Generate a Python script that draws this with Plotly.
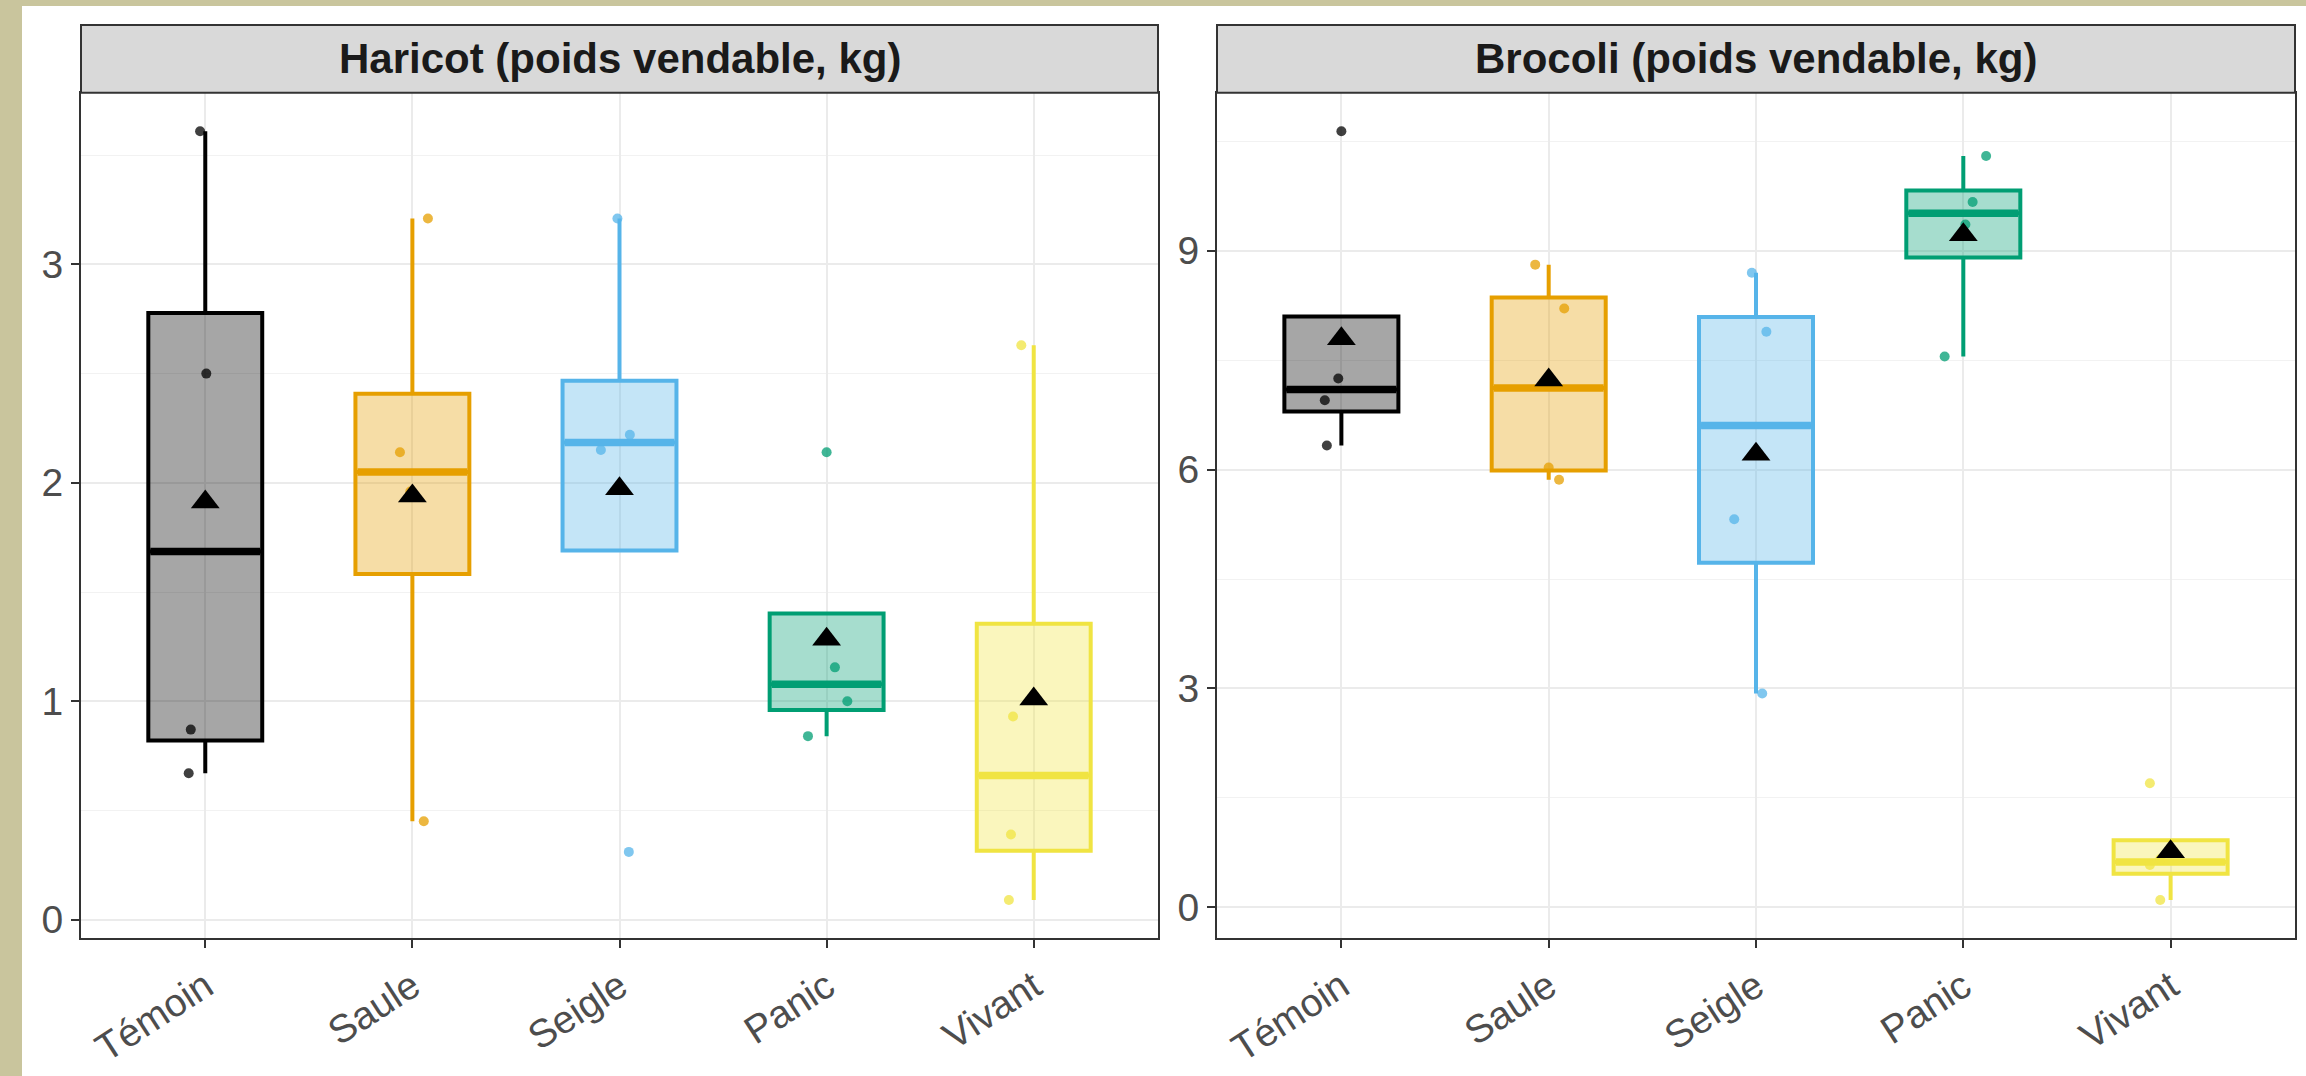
import numpy as np
import plotly.graph_objects as go

# ---------------- data ----------------
categories = ["Témoin", "Saule", "Seigle", "Panic", "Vivant"]
panel_titles = ["Haricot (poids vendable, kg)", "Brocoli (poids vendable, kg)"]

haricot_values = [
    [3.61, 2.50, 0.87, 0.67],   # Témoin
    [3.21, 2.14, 1.96, 0.45],   # Saule
    [3.21, 2.22, 2.15, 0.31],   # Seigle
    [2.14, 1.155, 1.00, 0.84],  # Panic
    [2.63, 0.93, 0.39, 0.09],   # Vivant
]
brocoli_values = [
    [10.64, 7.25, 6.95, 6.33],
    [8.81, 8.21, 6.03, 5.86],
    [8.70, 7.89, 5.32, 2.93],
    [10.30, 9.67, 9.36, 7.55],
    [1.70, 0.66, 0.58, 0.10],
]
# horizontal jitter of the points (category units)
haricot_jitter = [
    [-0.025, 0.005, -0.07, -0.08],
    [0.075, -0.06, -0.01, 0.055],
    [-0.01, 0.05, -0.09, 0.045],
    [0.0, 0.04, 0.10, -0.09],
    [-0.06, -0.10, -0.11, -0.12],
]
brocoli_jitter = [
    [0.0, -0.015, -0.08, -0.07],
    [-0.065, 0.075, 0.0, 0.05],
    [-0.02, 0.05, -0.105, 0.03],
    [0.11, 0.045, 0.01, -0.09],
    [-0.10, -0.05, -0.10, -0.05],
]
haricot_ticks = [0, 1, 2, 3]
brocoli_ticks = [0, 3, 6, 9]

# ---------------- style ----------------
line_colors = ["#000000", "#E69F00", "#56B4E9", "#009E73", "#F0E442"]
rgb = [(0, 0, 0), (230, 159, 0), (86, 180, 233), (0, 158, 115), (240, 228, 66)]
fill_colors = [f"rgba({r},{g},{b},0.35)" for r, g, b in rgb]
point_colors = [f"rgba({r},{g},{b},0.75)" for r, g, b in rgb]

W, H = 2306, 1076
FONT = "Liberation Sans, Arial, sans-serif"
BOX_W = 0.55
PAGE_BG = "#C9C59D"

panels = [
    dict(values=haricot_values, jitter=haricot_jitter, ticks=haricot_ticks,
         xd=[81 / W, 1158 / W], xa="x", ya="y"),
    dict(values=brocoli_values, jitter=brocoli_jitter, ticks=brocoli_ticks,
         xd=[1217 / W, 2295 / W], xa="x2", ya="y2"),
]
ydom = [(H - 941) / H, (H - 93) / H]

fig = go.Figure()

for p in panels:
    vals_all = []
    for i, vals in enumerate(p["values"]):
        v = np.array(vals, dtype=float)
        q1, med, q3 = np.percentile(v, [25, 50, 75])
        iqr = q3 - q1
        lo = v[v >= q1 - 1.5 * iqr].min()
        hi = v[v <= q3 + 1.5 * iqr].max()
        vals_all.extend([v.min(), v.max()])
        fig.add_trace(go.Box(
            x=[i], q1=[q1], median=[med], q3=[q3], lowerfence=[lo], upperfence=[hi],
            width=BOX_W, whiskerwidth=0, boxpoints=False,
            fillcolor=fill_colors[i], line=dict(color=line_colors[i], width=4),
            xaxis=p["xa"], yaxis=p["ya"], showlegend=False, hoverinfo="skip"))
        # thicker median bar (ggplot fatten)
        fig.add_trace(go.Scatter(
            x=[i - BOX_W / 2 + 0.01, i + BOX_W / 2 - 0.01], y=[med, med], mode="lines",
            line=dict(color=line_colors[i], width=7.5),
            xaxis=p["xa"], yaxis=p["ya"], showlegend=False, hoverinfo="skip"))
    for i, vals in enumerate(p["values"]):
        fig.add_trace(go.Scatter(
            x=[i + j for j in p["jitter"][i]], y=vals, mode="markers",
            marker=dict(color=point_colors[i], size=10, line=dict(width=0)),
            xaxis=p["xa"], yaxis=p["ya"], showlegend=False, hoverinfo="skip"))
    means = [float(np.mean(v)) for v in p["values"]]
    fig.add_trace(go.Scatter(
        x=list(range(len(categories))), y=means, mode="markers",
        marker=dict(symbol="triangle-up", color="black", size=25, line=dict(width=0)),
        xaxis=p["xa"], yaxis=p["ya"], showlegend=False, hoverinfo="skip"))
    lo_all, hi_all = min(vals_all), max(vals_all)
    span = hi_all - lo_all
    p["yrange"] = [lo_all - 0.05 * span, hi_all + 0.05 * span]

axis_common = dict(
    showline=True, mirror=True, linecolor="#333333", linewidth=2,
    ticks="outside", ticklen=8, tickwidth=2, tickcolor="#333333",
    tickfont=dict(family=FONT, size=39, color="#4D4D4D"),
    showgrid=True, gridcolor="#EBEBEB", gridwidth=2, zeroline=False,
)

layout = dict(
    width=W, height=H, margin=dict(l=0, r=0, t=0, b=0),
    paper_bgcolor="white", plot_bgcolor="white",
    font=dict(family=FONT),
    shapes=[], annotations=[],
)

for k, p in enumerate(panels):
    sx = "" if k == 0 else "2"
    ticks = p["ticks"]
    step = ticks[1] - ticks[0]
    minor_vals = [t + step / 2 for t in ticks]
    layout["xaxis" + sx] = dict(
        axis_common, domain=p["xd"], range=[-0.6, len(categories) - 0.4],
        tickmode="array", tickvals=list(range(len(categories))), ticktext=categories,
        tickangle=-33, anchor="y" + sx)
    layout["yaxis" + sx] = dict(
        axis_common, domain=ydom, range=p["yrange"],
        tickmode="array", tickvals=ticks, ticktext=[str(t) for t in ticks],
        minor=dict(tickmode="array", tickvals=minor_vals, showgrid=True,
                   gridcolor="#F2F2F2", gridwidth=1, ticks=""),
        anchor="x" + sx)
    # facet strip
    layout["shapes"].append(dict(
        type="rect", xref="paper", yref="paper",
        x0=p["xd"][0], x1=p["xd"][1], y0=(H - 93) / H, y1=(H - 25) / H,
        fillcolor="#D9D9D9", line=dict(color="#333333", width=2), layer="above"))
    layout["annotations"].append(dict(
        xref="paper", yref="paper", x=(p["xd"][0] + p["xd"][1]) / 2, y=(H - 59) / H,
        text="<b>" + panel_titles[k] + "</b>", showarrow=False,
        xanchor="center", yanchor="middle",
        font=dict(family=FONT, size=42, color="#1A1A1A")))

# textured page border (left and top) around the white chart area
layout["shapes"].insert(0, dict(
    type="rect", xref="paper", yref="paper", x0=-0.01, x1=22 / W, y0=-0.01, y1=1.01,
    fillcolor=PAGE_BG, line=dict(width=0), layer="below"))
layout["shapes"].insert(0, dict(
    type="rect", xref="paper", yref="paper", x0=-0.01, x1=1.01, y0=(H - 6) / H, y1=1.01,
    fillcolor=PAGE_BG, line=dict(width=0), layer="below"))

fig.update_layout(**layout)
fig.write_html("out.html")
